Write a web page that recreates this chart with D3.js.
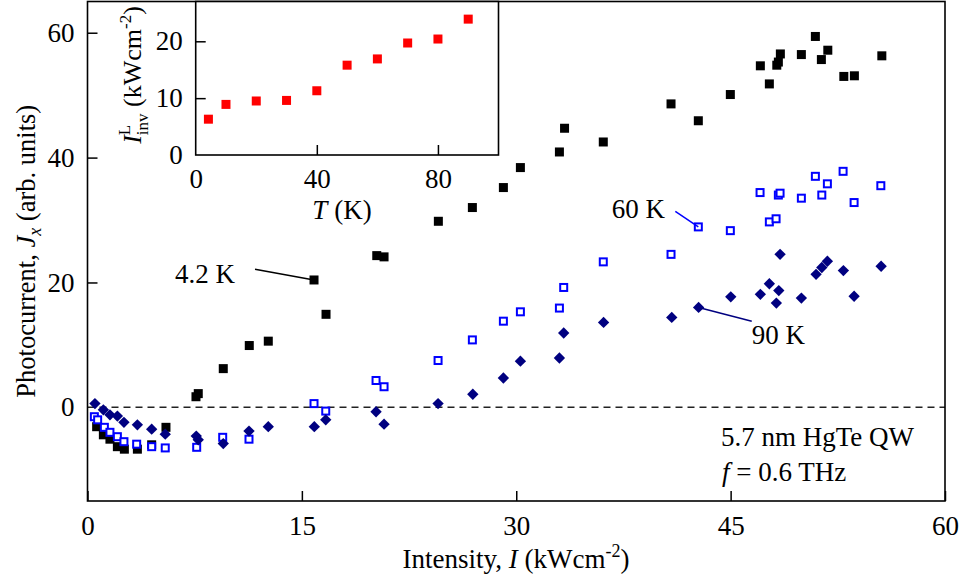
<!DOCTYPE html>
<html>
<head>
<meta charset="utf-8">
<script src="https://cdn.jsdelivr.net/npm/d3@7/dist/d3.min.js"></script>
<style>
  html, body { margin: 0; padding: 0; background: #fff; }
</style>
</head>
<body>
<svg id="chart" width="965" height="581"></svg>
<script>
// Photocurrent J_x versus intensity I for three temperatures
const intensity42 = [0.64, 1.11, 1.57, 2.09, 2.58, 3.49, 4.49, 5.49, 7.59, 7.75, 9.50, 11.32, 12.65, 15.85, 16.69,
  20.24, 20.75, 24.55, 26.93, 29.10, 30.29, 33.02, 33.38, 36.09, 40.83, 42.74, 44.98, 47.08, 47.71, 48.23,
  48.34, 48.48, 49.95, 50.93, 51.35, 51.80, 52.92, 53.66, 55.58];
const current42 = [-3.1, -4.4, -5.1, -6.3, -6.7, -6.7, -6.0, -3.2, 1.7, 2.2, 6.2, 9.9, 10.6, 20.4, 14.9,
  24.3, 24.1, 29.8, 32.0, 35.2, 38.4, 40.9, 44.7, 42.5, 48.6, 45.9, 50.1, 54.7, 51.8, 54.8,
  55.3, 56.6, 56.5, 59.4, 55.7, 57.2, 53.0, 53.1, 56.3];

const intensity60 = [0.48, 0.71, 1.18, 1.57, 2.09, 2.55, 3.44, 4.49, 5.44, 7.64, 9.46, 11.30, 15.85, 16.67,
  20.19, 20.75, 24.53, 26.93, 29.10, 30.29, 33.02, 33.32, 36.09, 40.83, 42.74, 44.98, 47.06, 47.71, 48.18,
  48.34, 48.46, 49.95, 50.93, 51.38, 51.77, 52.87, 53.64, 55.51];
const current60 = [-1.5, -2.0, -3.2, -4.0, -4.7, -5.5, -5.9, -6.3, -6.5, -6.4, -4.8, -5.1, 0.6, -0.6,
  4.3, 3.3, 7.5, 10.8, 13.8, 15.3, 15.9, 19.2, 23.3, 24.5, 28.9, 28.3, 34.4, 29.7, 30.2,
  34.0, 34.3, 33.5, 37.0, 34.0, 35.8, 37.8, 32.8, 35.5];

const intensity90 = [0.52, 1.11, 1.57, 2.09, 2.55, 3.49, 4.49, 5.44, 7.61, 7.75, 9.50, 11.30, 12.65, 15.87,
  16.67, 20.19, 20.75, 24.53, 26.96, 29.10, 30.29, 33.02, 33.32, 36.11, 40.88, 42.76, 45.01, 47.08, 47.71,
  48.20, 48.37, 48.46, 49.95, 50.98, 51.38, 51.77, 52.89, 53.64, 55.53];
const current90 = [0.6, -0.4, -1.2, -1.4, -2.4, -2.8, -3.5, -4.3, -4.6, -5.2, -5.8, -3.8, -3.1, -3.1,
  -2.0, -0.7, -2.7, 0.6, 2.1, 4.7, 7.4, 7.9, 11.9, 13.6, 14.4, 16.0, 17.7, 18.1, 19.8,
  16.7, 18.7, 24.5, 17.5, 21.3, 22.4, 23.4, 21.9, 17.8, 22.6];

// Inset: inversion intensity I_inv^L versus temperature
const insetTemperature = [4.2, 10, 20, 30, 40, 50, 60, 70, 80, 90];
const insetInversion = [6.3, 8.9, 9.5, 9.6, 11.3, 15.8, 16.9, 19.7, 20.4, 23.9];

const xTicks = [0, 15, 30, 45, 60];
const yTicks = [0, 20, 40, 60];
const insetXTicks = [0, 40, 80];
const insetYTicks = [0, 10, 20];

const FONT = "'Liberation Serif', Tinos, 'Times New Roman', Times, 'Nimbus Roman', FreeSerif, 'DejaVu Serif', serif";
const FS = 27;
const SMALL = 18;

const svg = d3.select("#chart").attr("font-family", FONT).style("font-family", FONT);

const x = d3.scaleLinear([0, 60], [87.5, 945]);
const y = d3.scaleLinear([-15, 65], [501, 1.5]);
const ix = d3.scaleLinear([0, 100], [195.7, 498.5]);
const iy = d3.scaleLinear([0, 27], [155, 1.5]);

const pts = (xs, ys) => xs.map((v, i) => [v, ys[i]]);
const label = sel => sel.attr("font-size", FS).attr("font-family", FONT).style("font-family", FONT).attr("fill", "#000");

// zero line
svg.append("line")
  .attr("x1", x(0)).attr("x2", x(60)).attr("y1", y(0)).attr("y2", y(0))
  .attr("stroke", "#222").attr("stroke-width", 1.5).attr("stroke-dasharray", "7,5");

// main axes
const gx = svg.append("g").attr("transform", `translate(0,${y(-15)})`)
  .call(d3.axisBottom(x).tickValues(xTicks).tickSizeInner(-10).tickSizeOuter(0).tickPadding(15));
const gy = svg.append("g").attr("transform", `translate(${x(0)},0)`)
  .call(d3.axisLeft(y).tickValues(yTicks).tickSizeInner(-10).tickSizeOuter(0).tickPadding(13));
[gx, gy].forEach(g => {
  g.attr("font-family", FONT);
  g.select(".domain").remove();
  g.selectAll("line").attr("stroke", "#000").attr("stroke-width", 1.5);
  g.selectAll("text").call(label);
});
gy.selectAll(".tick").filter(d => d === 0).select("line").remove();

svg.append("rect")
  .attr("x", x(0)).attr("y", y(65)).attr("width", x(60) - x(0)).attr("height", y(-15) - y(65))
  .attr("fill", "none").attr("stroke", "#000").attr("stroke-width", 1.6);

// series
const sq = 9;
svg.append("g").selectAll("rect").data(pts(intensity42, current42)).join("rect")
  .attr("x", d => x(d[0]) - sq / 2).attr("y", d => y(d[1]) - sq / 2)
  .attr("width", sq).attr("height", sq).attr("fill", "#000");

const osq = 7;
svg.append("g").selectAll("rect").data(pts(intensity60, current60)).join("rect")
  .attr("x", d => x(d[0]) - osq / 2).attr("y", d => y(d[1]) - osq / 2)
  .attr("width", osq).attr("height", osq).attr("fill", "#fff")
  .attr("stroke", "#0000ff").attr("stroke-width", 2);

const diamond = d3.symbol(d3.symbolDiamond2, 82)();
svg.append("g").selectAll("path").data(pts(intensity90, current90)).join("path")
  .attr("d", diamond)
  .attr("transform", d => `translate(${x(d[0])},${y(d[1])})`)
  .attr("fill", "#000080");

// temperature labels with leader lines to one point of each series
const labels = [
  { text: "4.2 K", tx: 6.12, ty: 19.9, lx: 11.72, ly: 22.1, px: intensity42[13], py: current42[13], color: "#000" },
  { text: "60 K", tx: 36.68, ty: 30.3, lx: 41.13, ly: 31.4, px: intensity60[24], py: current60[24], color: "#0000ff" },
  { text: "90 K", tx: 46.48, ty: 10.2, lx: 46.48, ly: 13.8, px: intensity90[25], py: current90[25], color: "#000080" }
];
labels.forEach(l => {
  svg.append("line").attr("x1", x(l.lx)).attr("y1", y(l.ly)).attr("x2", x(l.px)).attr("y2", y(l.py))
    .attr("stroke", l.color).attr("stroke-width", 1.5);
  svg.append("text").attr("x", x(l.tx)).attr("y", y(l.ty)).call(label).text(l.text);
});

// sample description
svg.append("text").attr("x", 721).attr("y", 446).call(label).text("5.7 nm HgTe QW");
const ft = svg.append("text").attr("x", 722).attr("y", 481).call(label);
ft.append("tspan").attr("font-style", "italic").text("f");
ft.append("tspan").text(" = 0.6 THz");

// axis titles
const xt = svg.append("text").attr("x", 516).attr("y", 568).attr("text-anchor", "middle").call(label);
xt.append("tspan").text("Intensity, ");
xt.append("tspan").attr("font-style", "italic").text("I");
xt.append("tspan").text(" (kWcm");
xt.append("tspan").attr("font-size", SMALL).attr("dy", -11).text("-2");
xt.append("tspan").attr("dy", 11).text(")");

const yt = svg.append("text").attr("transform", `translate(35,${(y(-15) + y(65)) / 2}) rotate(-90)`)
  .attr("text-anchor", "middle").call(label).attr("font-size", 26.5);
yt.append("tspan").text("Photocurrent, ");
yt.append("tspan").attr("font-style", "italic").text("J");
yt.append("tspan").attr("font-style", "italic").attr("font-size", SMALL).attr("dy", 6).text("x");
yt.append("tspan").attr("dy", -6).text(" (arb. units)");

// inset
const inset = svg.append("g");
inset.append("rect").attr("x", ix(0)).attr("y", iy(27)).attr("width", ix(100) - ix(0)).attr("height", iy(0) - iy(27))
  .attr("fill", "#fff").attr("stroke", "#000").attr("stroke-width", 1.6);
const igx = inset.append("g").attr("transform", `translate(0,${iy(0)})`)
  .call(d3.axisBottom(ix).tickValues(insetXTicks).tickSizeInner(-10).tickSizeOuter(0).tickPadding(14));
const igy = inset.append("g").attr("transform", `translate(${ix(0)},0)`)
  .call(d3.axisLeft(iy).tickValues(insetYTicks).tickSizeInner(-10).tickSizeOuter(0).tickPadding(13));
[igx, igy].forEach(g => {
  g.attr("font-family", FONT);
  g.select(".domain").remove();
  g.selectAll("line").attr("stroke", "#000").attr("stroke-width", 1.5);
  g.selectAll("text").call(label);
});
igx.selectAll(".tick").filter(d => d === 0).select("line").remove();
igy.selectAll(".tick").filter(d => d === 0).select("line").remove();

inset.append("g").selectAll("rect").data(pts(insetTemperature, insetInversion)).join("rect")
  .attr("x", d => ix(d[0]) - 4.5).attr("y", d => iy(d[1]) - 4.5)
  .attr("width", 9).attr("height", 9).attr("fill", "#ff0000");

const itx = inset.append("text").attr("x", 342).attr("y", 219).attr("text-anchor", "middle").call(label);
itx.append("tspan").attr("font-style", "italic").text("T");
itx.append("tspan").text(" (K)");

const ity = inset.append("text").attr("transform", `translate(141,75) rotate(-90)`)
  .attr("text-anchor", "middle").call(label).attr("font-size", 26);
ity.append("tspan").attr("font-style", "italic").text("I");
const supL = ity.append("tspan").attr("font-size", 17).attr("dy", -11).text("L");
const subInv = ity.append("tspan").attr("font-size", 17).attr("dy", 18).text("inv");
ity.append("tspan").attr("dy", -7).text(" (kWcm");
ity.append("tspan").attr("font-size", 17).attr("dy", -10).text("-2");
ity.append("tspan").attr("dy", 10).text(")");
// stack the subscript under the superscript
const lw = supL.node().getComputedTextLength();
subInv.attr("dx", -lw);
</script>
</body>
</html>
